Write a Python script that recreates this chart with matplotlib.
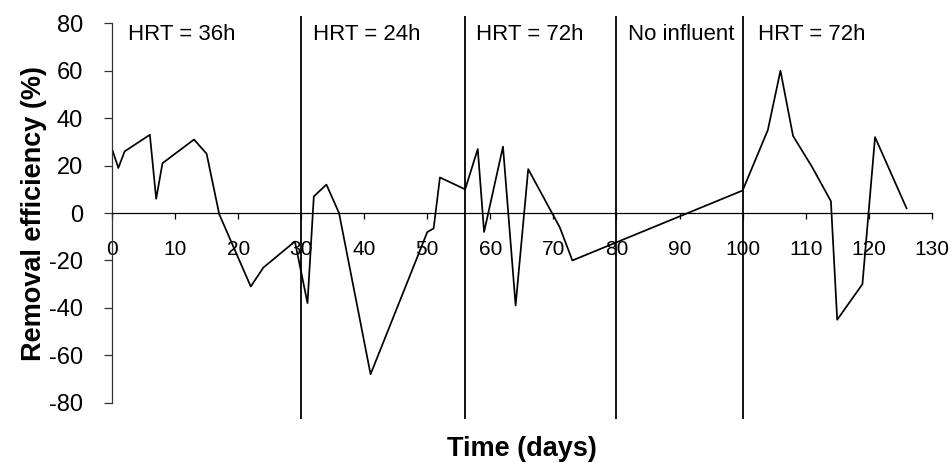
import matplotlib
matplotlib.use("Agg")
import matplotlib.pyplot as plt
import numpy as np

plt.rcParams['font.family'] = ['Liberation Sans', 'DejaVu Sans']
plt.rcParams['axes.unicode_minus'] = False

# removal efficiency over the reactor run
days = [0, 1, 2, 6, 7, 8, 13, 15, 17, 22, 24, 29, 31, 32, 34, 36, 41,
        50, 51, 52, 56, 58, 59, 62, 64, 66, 71, 73, 100, 104, 106, 108,
        111, 114, 115, 119, 121, 126]
efficiency = [27, 19, 26, 33, 6, 21, 31, 25, -0.5, -31, -23, -12, -38, 7,
              12, 0, -68, -8, -6.5, 15, 10, 27, -8, 28, -39, 18.5, -6, -20,
              9.5, 35, 60, 32.5, 19.5, 5, -45, -30, 32, 2]

# operating phases
phase_bounds = [30, 56, 80, 100]
phase_labels = ["HRT = 36h", "HRT = 24h", "HRT = 72h", "No influent", "HRT = 72h"]
phase_label_x = [2.5, 31.8, 57.7, 81.9, 102.4]

fig = plt.figure(figsize=(9.51, 4.63), dpi=100)
ax = fig.add_axes([0.1178, 0.1302, 0.862, 0.8194])

ax.plot(days, efficiency, color='black', lw=1.25)
ax.vlines(phase_bounds, -87, 83, color='black', lw=1.3, clip_on=False)

for x, lab in zip(phase_label_x, phase_labels):
    ax.text(x, 75.4, lab, fontsize=16, ha='left', va='center')

ax.set_xlim(0, 130)
ax.set_ylim(-80, 80)
ax.set_xticks(np.arange(0, 131, 10))
ax.set_yticks(np.arange(-80, 81, 20))

ax.spines['top'].set_visible(False)
ax.spines['right'].set_visible(False)
ax.spines['bottom'].set_position(('data', 0))
ax.spines['bottom'].set_linewidth(0.9)
ax.spines['left'].set_linewidth(0.9)
ax.spines['left'].set_color('#333333')

ax.tick_params(axis='x', direction='out', length=4.5, width=0.9, pad=15, labelsize=15)
ax.tick_params(axis='y', direction='out', length=6, width=0.9, color='#333333',
               pad=15, labelsize=17)

ax.set_xlabel("Time (days)", fontsize=19.5, fontweight='bold', va='center')
ax.set_ylabel("Removal efficiency (%)", fontsize=19.5, fontweight='bold', va='center')
ax.xaxis.set_label_coords(0.5, -0.122)
ax.yaxis.set_label_coords(-0.095, 0.5)

fig.savefig("out.png", dpi=100)
